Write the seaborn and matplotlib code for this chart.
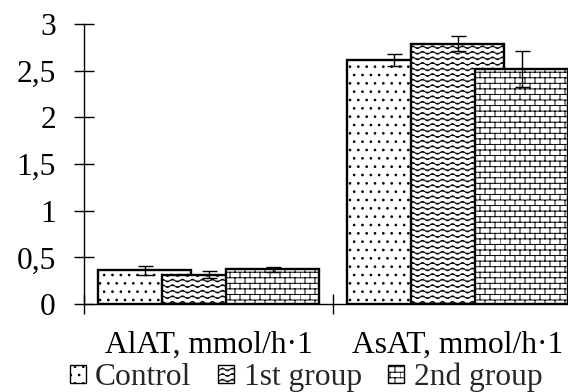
import warnings

import matplotlib
matplotlib.use("Agg")
import matplotlib.hatch as mhatch
import matplotlib.pyplot as plt
import numpy as np
import pandas as pd
import seaborn as sns
from matplotlib.patches import Patch
from matplotlib.path import Path as MPath
from matplotlib.ticker import FixedLocator, FuncFormatter

warnings.filterwarnings("ignore")

ENZYMES = ["AlAT, mmol/h·1", "AsAT, mmol/h·1"]
GROUPS = ["Control", "1st group", "2nd group"]
CONTROL = [0.36, 2.615]
GROUP_1 = [0.315, 2.787]
GROUP_2 = [0.37, 2.52]
CONTROL_ERR = [0.045, 0.065]
GROUP_1_ERR = [0.035, 0.08]
GROUP_2_ERR = [0.025, 0.19]
Y_TICKS = [0, 0.5, 1, 1.5, 2, 2.5, 3]

FONT = 22.7


class WaveHatch(mhatch.HatchPatternBase):
    # 'w' -> rows of sine waves (Excel "wave" pattern)
    def __init__(self, hatch, density):
        self.num_rows = int(hatch.count("w") * density)
        self.num_waves = self.num_rows * 10 // 18
        self.steps = self.num_waves * 8 + 1
        self.num_vertices = self.num_rows * self.steps if self.num_rows else 0

    def set_vertices_and_codes(self, vertices, codes):
        xs = np.linspace(0, 1, self.steps)
        amp = 0.25 / self.num_rows
        for i in range(self.num_rows):
            seg = slice(i * self.steps, (i + 1) * self.steps)
            vertices[seg, 0] = xs
            vertices[seg, 1] = (i + 0.5) / self.num_rows + amp * np.sin(2 * np.pi * self.num_waves * xs)
            codes[seg] = MPath.LINETO
            codes[i * self.steps] = MPath.MOVETO


class BrickHatch(mhatch.HatchPatternBase):
    # 'b' -> staggered bricks
    def __init__(self, hatch, density):
        self.num_rows = int(hatch.count("b") * density)
        self.num_cols = self.num_rows * 10 // 18
        if self.num_rows:
            self.num_vertices = (self.num_rows + 1) * 2 + self.num_rows * self.num_cols * 2
        else:
            self.num_vertices = 0

    def set_vertices_and_codes(self, vertices, codes):
        v = []
        for i in range(self.num_rows + 1):
            y = i / self.num_rows
            v += [(0, y), (1, y)]
        for i in range(self.num_rows):
            for j in range(self.num_cols):
                x = (j + 0.5 * (i % 2)) / self.num_cols
                v += [(x, i / self.num_rows), (x, (i + 1) / self.num_rows)]
        vertices[:] = v
        codes[0::2] = MPath.MOVETO
        codes[1::2] = MPath.LINETO


mhatch._hatch_types.extend([WaveHatch, BrickHatch])
HATCHES = ["..", "www", "bbb"]


def main() -> None:
    sns.set_style("white")
    plt.rcParams["font.family"] = ["Liberation Serif", "DejaVu Serif"]
    plt.rcParams["hatch.linewidth"] = 0.7
    plt.rcParams["hatch.color"] = "black"

    df = pd.DataFrame(
        {
            "enzyme": ENZYMES * 3,
            "group": np.repeat(GROUPS, len(ENZYMES)),
            "value": CONTROL + GROUP_1 + GROUP_2,
        }
    )
    errs = [CONTROL_ERR, GROUP_1_ERR, GROUP_2_ERR]

    fig = plt.figure(figsize=(5.68, 3.92), dpi=100)
    ax = fig.add_axes([0.1479, 0.2245, 0.8768, 0.7143])
    sns.barplot(
        data=df, x="enzyme", y="value", hue="group", order=ENZYMES, hue_order=GROUPS,
        palette={g: "white" for g in GROUPS}, width=0.771, errorbar=None,
        edgecolor="black", linewidth=1.7, legend=False, ax=ax,
    )

    # overlapping bars, like Excel's series overlap
    bar_w = 0.3735
    for cont, hatch, err in zip(ax.containers, HATCHES, errs):
        xs, ys = [], []
        for p in cont.patches:
            c = p.get_x() + p.get_width() / 2
            p.set_width(bar_w)
            p.set_x(c - bar_w / 2)
            p.set_hatch(hatch)
            xs.append(c)
            ys.append(p.get_height())
        ax.errorbar(xs, ys, yerr=err, fmt="none", ecolor="black", elinewidth=1.0,
                    capsize=5.4, capthick=1.0, zorder=5)

    ax.set_xlim(-0.5, 1.5)
    ax.set_ylim(0, 3)
    ax.set_xlabel("")
    ax.set_ylabel("")
    sns.despine(ax=ax)
    for side in ["left", "bottom"]:
        ax.spines[side].set_linewidth(1.0)
        ax.spines[side].set_color("black")

    ax.yaxis.set_major_locator(FixedLocator(Y_TICKS))
    ax.yaxis.set_major_formatter(FuncFormatter(lambda v, _: f"{v:g}".replace(".", ",")))
    ax.tick_params(axis="y", direction="inout", length=14.4, width=1.0, pad=13,
                   labelsize=FONT, left=True, colors="black")
    ax.xaxis.set_minor_locator(FixedLocator([-0.5, 0.5, 1.5]))
    ax.tick_params(axis="x", which="major", length=0, pad=19, labelsize=FONT, colors="black")
    ax.tick_params(axis="x", which="minor", direction="inout", length=14.4, width=1.0,
                   bottom=True, color="black")

    handles = [Patch(facecolor="white", edgecolor="black", linewidth=1.0, hatch=h) for h in HATCHES]
    fig.legend(handles, GROUPS, loc="center", bbox_to_anchor=(0.539, 0.037), ncol=3,
               frameon=False, fontsize=FONT, handlelength=0.5, handleheight=0.5,
               handletextpad=0.3, columnspacing=0.85, borderpad=0, borderaxespad=0)

    fig.savefig("out.png", dpi=100, facecolor="white")
    plt.close(fig)


if __name__ == "__main__":
    main()
